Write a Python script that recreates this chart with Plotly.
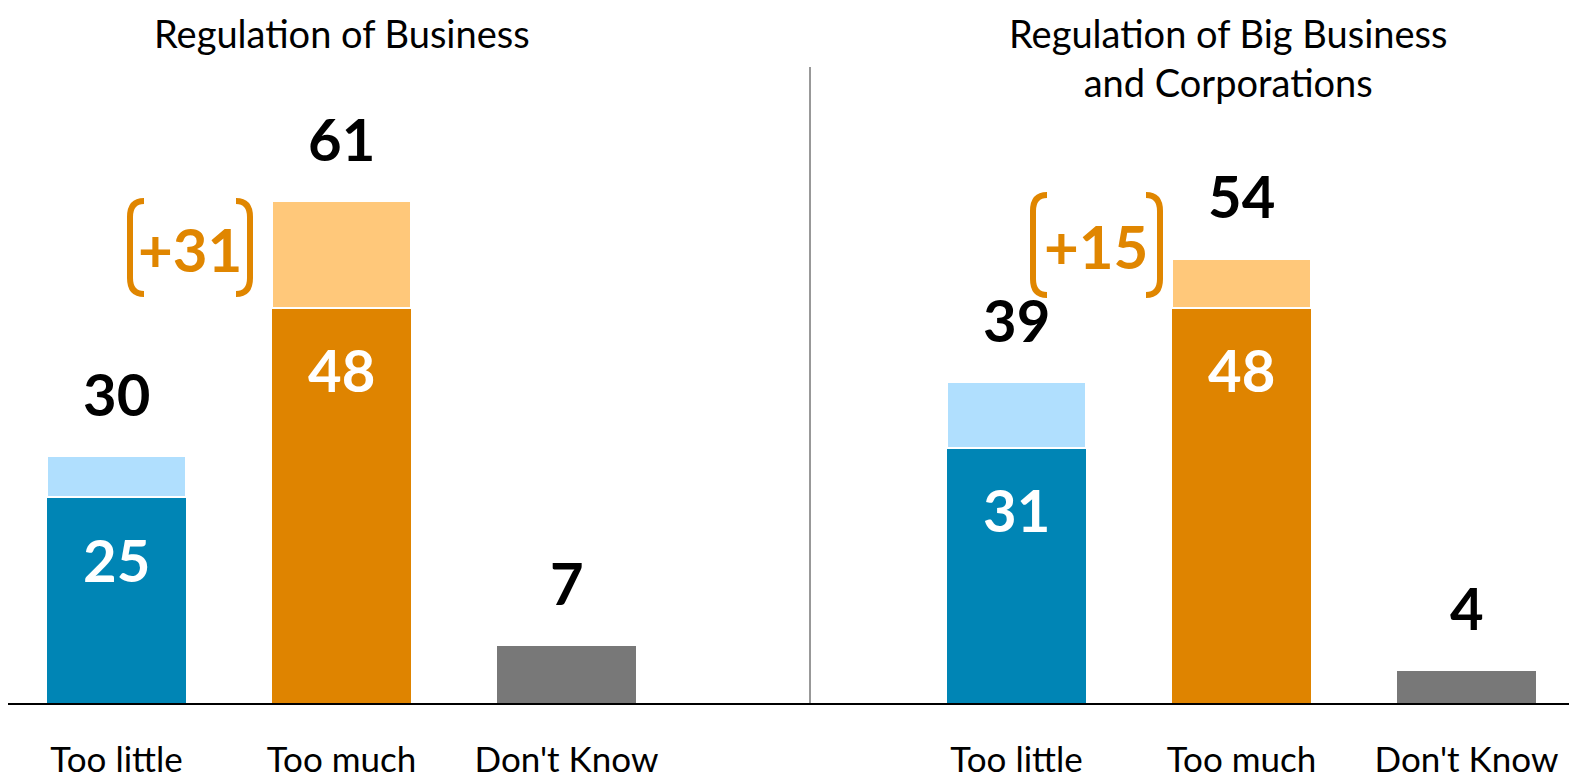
import plotly.graph_objects as go

# ---------------- data ----------------
categories = ["Too little", "Too much", "Don't Know"]
business_base = [25, 48, 7]
business_total = [30, 61, 7]
bigbiz_base = [31, 48, 4]
bigbiz_total = [39, 54, 4]
panel_titles = ["Regulation of Business", "Regulation of Big Business<br>and Corporations"]

# ---------------- style ----------------
OFF = 8                      # page body margin
W, H = 1577 - OFF, 779 - OFF
FONT = "Lato"
dark_colors = ["#0085B5", "#DF8400", "#787878"]
light_colors = ["#B0DFFE", "#FFC87A", "#787878"]
ORANGE = "#E08600"
TOP61_PY = 201
BASE_PY = 703
SPACING = 225.0


def px(x):
    return (x - OFF) / W


def py(y):
    return 1 - (y - OFF) / H


xpos = [0, 1, 2]
fig = go.Figure()

panels = [
    (business_base, business_total, "x", "y"),
    (bigbiz_base, bigbiz_total, "x2", "y2"),
]
for base, total, xa, ya in panels:
    light = [t - b for t, b in zip(total, base)]
    fig.add_trace(go.Bar(x=xpos, y=base, marker=dict(color=dark_colors, line=dict(width=0)),
                         width=0.62, xaxis=xa, yaxis=ya, showlegend=False, hoverinfo="skip"))
    fig.add_trace(go.Bar(x=xpos, y=light, marker=dict(color=light_colors, line=dict(width=2, color="white")),
                         width=0.62, xaxis=xa, yaxis=ya, showlegend=False, hoverinfo="skip"))
    for i in range(3):
        fig.add_annotation(x=xpos[i], y=total[i], xref=xa, yref=ya, text=f"<b>{total[i]}</b>",
                           showarrow=False, yanchor="middle", yshift=63,
                           font=dict(family=FONT, size=58, color="black"))
        if light[i] > 0:
            fig.add_annotation(x=xpos[i], y=base[i], xref=xa, yref=ya, text=f"<b>{base[i]}</b>",
                               showarrow=False, yanchor="middle", yshift=-62,
                               font=dict(family=FONT, size=58, color="white"))

# y scale: 61 reaches TOP61_PY, zero at the baseline
px_per_unit = (BASE_PY - TOP61_PY) / max(business_total)
ymax = (BASE_PY - OFF) / px_per_unit
ydom = [py(BASE_PY), 1]
left_c, right_c = 116.5, 1016.5
axis_common = dict(tickvals=xpos, ticktext=categories, showgrid=False, zeroline=False,
                   showline=True, linecolor="black", linewidth=2, ticks="", ticklabelstandoff=25,
                   automargin=False, tickfont=dict(family=FONT, size=35, color="black"))
fig.update_layout(
    width=W, height=H, margin=dict(l=0, r=0, t=0, b=0, autoexpand=False),
    paper_bgcolor="white", plot_bgcolor="white", barmode="stack", bargap=0,
    xaxis=dict(domain=[0, px(810)], range=[(OFF - left_c) / SPACING, (810 - left_c) / SPACING],
               anchor="y", **axis_common),
    xaxis2=dict(domain=[px(810), 1], range=[(810 - right_c) / SPACING, (1577 - right_c) / SPACING],
                anchor="y2", **axis_common),
    yaxis=dict(domain=ydom, range=[0, ymax], visible=False, anchor="x", automargin=False),
    yaxis2=dict(domain=ydom, range=[0, ymax], visible=False, anchor="x2", automargin=False),
)

# titles
fig.add_annotation(x=px(342), y=1, xref="paper", yref="paper", text=panel_titles[0],
                   showarrow=False, xanchor="center", yanchor="top",
                   font=dict(family=FONT, size=38, color="black"))
fig.add_annotation(x=px(1228), y=1, xref="paper", yref="paper", text=panel_titles[1],
                   showarrow=False, xanchor="center", yanchor="top",
                   font=dict(family=FONT, size=38, color="black"))

# divider
fig.add_shape(type="line", xref="paper", yref="paper", x0=px(810), x1=px(810), y0=py(67), y1=py(BASE_PY),
              line=dict(color="#333333", width=1))

# difference brackets
diffs = [business_total[1] - business_total[0], bigbiz_total[1] - bigbiz_total[0]]
brackets = [(130, 250, 201, 294, 190, 249), (1033, 1160, 195, 295, 1096, 246)]
for d, (xl, xr, yt, yb, tx, ty) in zip(diffs, brackets):
    r = 16
    lp = (f"M {px(xl+14)},{py(yt)} Q {px(xl)},{py(yt)} {px(xl)},{py(yt+r)} "
          f"L {px(xl)},{py(yb-r)} Q {px(xl)},{py(yb)} {px(xl+14)},{py(yb)}")
    rp = (f"M {px(xr-14)},{py(yt)} Q {px(xr)},{py(yt)} {px(xr)},{py(yt+r)} "
          f"L {px(xr)},{py(yb-r)} Q {px(xr)},{py(yb)} {px(xr-14)},{py(yb)}")
    for p in (lp, rp):
        fig.add_shape(type="path", path=p, xref="paper", yref="paper",
                      line=dict(color=ORANGE, width=6))
    fig.add_annotation(x=px(tx), y=py(ty), xref="paper", yref="paper", text=f"<b>+{d}</b>",
                       showarrow=False, xanchor="center", yanchor="middle",
                       font=dict(family=FONT, size=60, color=ORANGE))

fig.write_html("out.html")
